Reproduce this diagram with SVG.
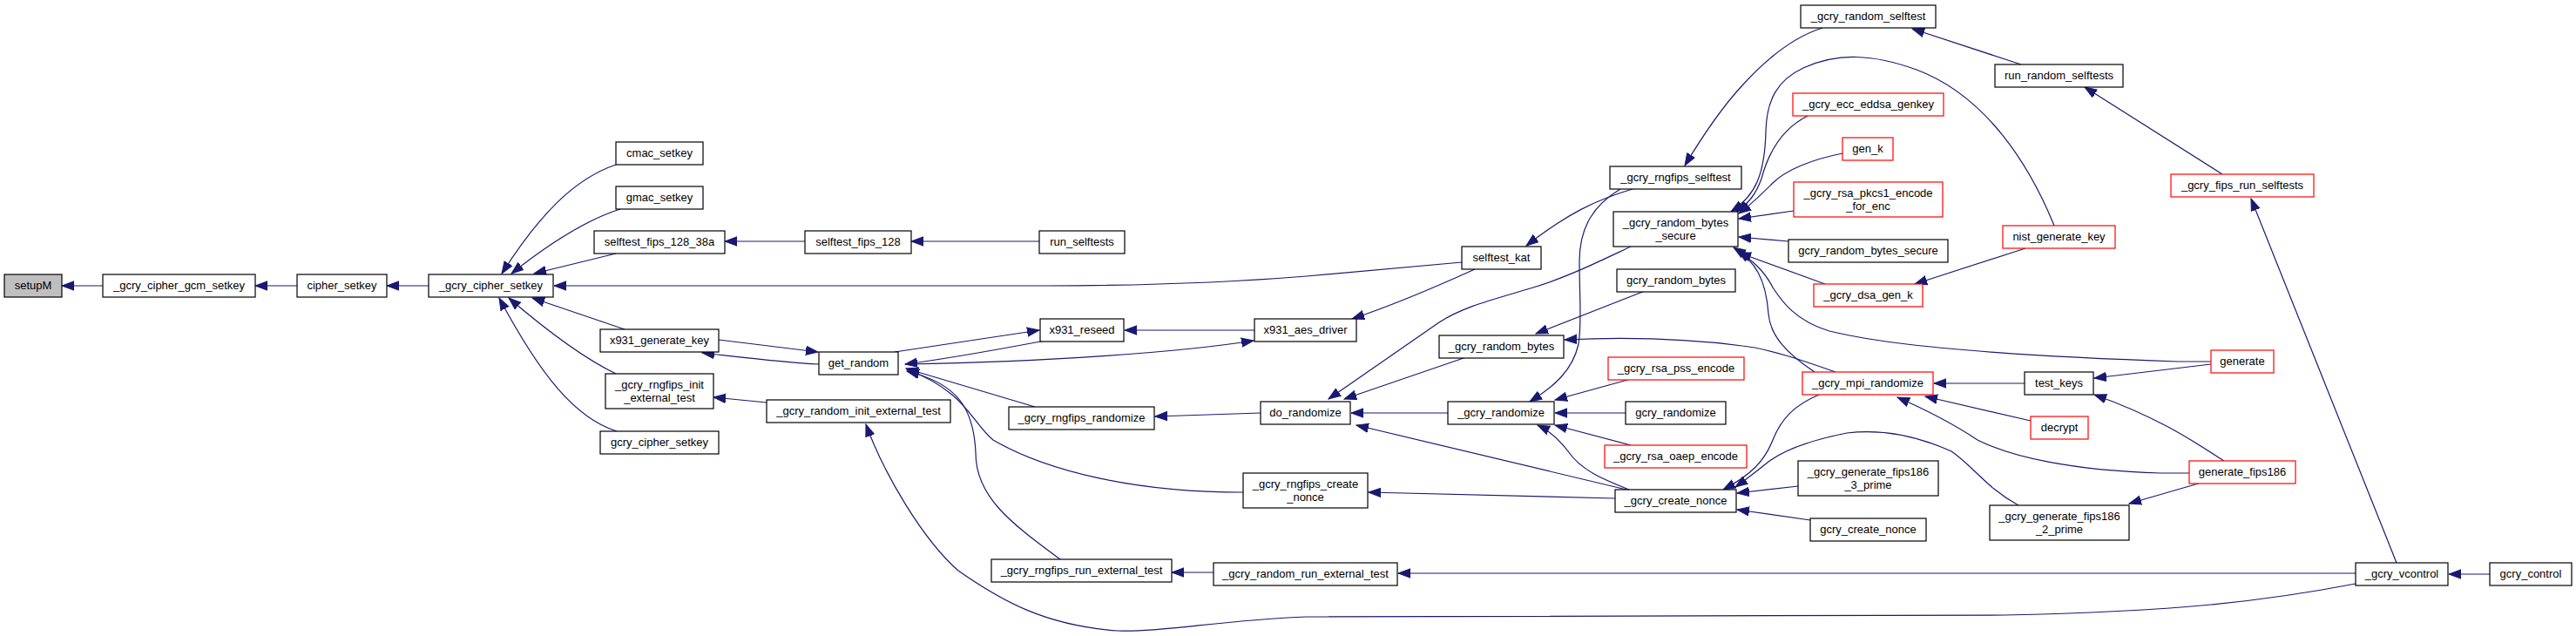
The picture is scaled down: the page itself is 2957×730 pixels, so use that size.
<svg xmlns="http://www.w3.org/2000/svg" width="2957" height="730" viewBox="0 0 2957 730">
<style>
.n rect{fill:#fff;stroke:#000;stroke-width:1.2}
.n.r rect{stroke:#ff0000}
.n.s rect{fill:#bfbfbf}
.n text{font-family:"Liberation Sans",Arial,sans-serif;font-size:13px;text-anchor:middle;fill:#000}
#edges path{fill:none;stroke:#191970;stroke-width:1.2;marker-end:url(#ah)}
</style>
<defs>
<marker id="ah" markerUnits="userSpaceOnUse" markerWidth="15" markerHeight="12" viewBox="0 0 15 12" refX="14" refY="6" orient="auto"><path d="M0,0.8 L14,6 L0,11.2 z" fill="#191970" stroke="#191970" stroke-width="1"/></marker>
</defs>
<rect width="2957" height="730" fill="#fff"/>
<g id="edges">
<path d="M118,328 L71,328"/>
<path d="M341,328 L293,328"/>
<path d="M492,328 L444,328"/>
<path d="M707,189 C660,205 620,245 576,314"/>
<path d="M712,240 C680,250 640,272 587,314"/>
<path d="M707,291 L613,314"/>
<path d="M1678,301 L1500,317 C1400,325 1300,328 1200,328 L636,328"/>
<path d="M717,378 L611,342"/>
<path d="M707,429 C680,416 640,390 584,342"/>
<path d="M708,495 C660,480 620,430 573,342"/>
<path d="M924,277 L832,277"/>
<path d="M1193,277 L1046,277"/>
<path d="M825,390 L939,404"/>
<path d="M940,418 C900,416 860,411 806,405"/>
<path d="M880,462 L819,456"/>
<path d="M2704,670 C2600,690 2500,702 2300,706 L1500,708 C1400,712 1330,726 1283,724 C1200,718 1150,690 1100,655 C1060,620 1015,545 994,487"/>
<path d="M1027,404 L1193,379"/>
<path d="M1200,391 C1150,400 1100,410 1039,418"/>
<path d="M1040,418 C1200,415 1350,405 1439,391"/>
<path d="M1440,379 L1291,379"/>
<path d="M1188,467 L1040,423"/>
<path d="M1427,565 C1300,565 1200,540 1140,505 C1115,485 1110,450 1041,424"/>
<path d="M1217,642 C1160,600 1120,570 1120,520 C1118,470 1100,440 1041,426"/>
<path d="M1447,474 L1326,478"/>
<path d="M1854,572 L1571,565"/>
<path d="M1393,657 L1345,657"/>
<path d="M2704,658 L1605,658"/>
<path d="M1877,216 C1830,230 1800,245 1752,282"/>
<path d="M1693,309 C1640,333 1600,350 1552,366"/>
<path d="M2092,32 C2060,42 2030,65 2000,98 C1975,125 1955,155 1934,190"/>
<path d="M2320,74 L2195,33"/>
<path d="M2551,200 L2393,100"/>
<path d="M2751,646 L2584,228"/>
<path d="M2858,659 L2811,659"/>
<path d="M1860,217 C1830,235 1813,260 1813,300 C1813,340 1816,370 1812,395 C1805,425 1785,443 1756,461"/>
<path d="M1888,334 L1763,383"/>
<path d="M1683,410 L1543,458"/>
<path d="M1872,283 C1840,298 1800,318 1760,330 C1710,345 1680,352 1652,370 L1525,458"/>
<path d="M1662,474 L1551,474"/>
<path d="M1867,562 L1557,488"/>
<path d="M1870,562 C1840,550 1815,540 1800,518 C1790,505 1780,495 1765,488"/>
<path d="M1872,511 L1785,488"/>
<path d="M1872,435 L1785,459"/>
<path d="M1866,474 L1785,474"/>
<path d="M2358,259 C2330,190 2280,110 2200,80 C2150,62 2110,60 2070,78 C2040,92 2028,115 2027,150 C2026,200 2015,225 1987,243"/>
<path d="M2075,133 C2045,148 2030,175 2022,205 C2015,225 2005,235 1993,243"/>
<path d="M2115,176 C2080,183 2050,195 2035,210 C2020,225 2010,235 1996,245"/>
<path d="M2059,242 L1996,251"/>
<path d="M2053,277 L1996,272"/>
<path d="M2095,326 L1996,290"/>
<path d="M2083,427 C2050,405 2032,385 2030,360 C2027,320 2015,300 1990,284"/>
<path d="M2538,415 L2500,415 C2350,410 2180,400 2100,380 C2060,368 2045,345 2035,330 C2025,310 2010,298 1995,288"/>
<path d="M2538,418 L2404,434"/>
<path d="M2107,427 C2070,414 2030,400 2000,397 C1930,388 1860,387 1796,390"/>
<path d="M2088,453 C2060,465 2045,480 2035,505 C2025,530 2010,545 1978,562"/>
<path d="M2317,580 C2280,560 2265,535 2240,518 C2200,500 2160,492 2120,497 C2080,505 2050,515 2030,530 C2015,542 2005,550 1992,559"/>
<path d="M2064,558 L1994,566"/>
<path d="M2078,597 L1994,585"/>
<path d="M2324,440 L2220,440"/>
<path d="M2331,483 L2210,455"/>
<path d="M2513,543 L2480,543 C2380,540 2310,525 2270,505 C2240,485 2210,470 2178,456"/>
<path d="M2527,554 L2444,578"/>
<path d="M2553,529 C2520,508 2480,480 2404,453"/>
<path d="M2325,285 L2198,326"/>
</g>
<g id="n_setupM" class="n s"><rect x="5" y="315" width="66" height="26"/><text x="38" y="332">setupM</text></g>
<g id="n_gcm_setkey" class="n"><rect x="118" y="315" width="175" height="26"/><text x="205.5" y="332">_gcry_cipher_gcm_setkey</text></g>
<g id="n_cipher_setkey" class="n"><rect x="341" y="315" width="103" height="26"/><text x="392.5" y="332">cipher_setkey</text></g>
<g id="n__gcry_cipher_setkey" class="n"><rect x="492" y="315" width="143" height="26"/><text x="563.5" y="332">_gcry_cipher_setkey</text></g>
<g id="n_cmac_setkey" class="n"><rect x="707" y="163" width="100" height="26"/><text x="757" y="180">cmac_setkey</text></g>
<g id="n_gmac_setkey" class="n"><rect x="707" y="214" width="100" height="26"/><text x="757" y="231">gmac_setkey</text></g>
<g id="n_selftest_fips_128_38a" class="n"><rect x="682" y="265" width="150" height="26"/><text x="757" y="282">selftest_fips_128_38a</text></g>
<g id="n_selftest_fips_128" class="n"><rect x="924" y="265" width="122" height="26"/><text x="985" y="282">selftest_fips_128</text></g>
<g id="n_run_selftests" class="n"><rect x="1193" y="265" width="98" height="26"/><text x="1242" y="282">run_selftests</text></g>
<g id="n_x931_generate_key" class="n"><rect x="689" y="378" width="136" height="26"/><text x="757" y="395">x931_generate_key</text></g>
<g id="n_rngfips_init_external_test" class="n"><rect x="695" y="429" width="124" height="40"/><text x="757" y="446">_gcry_rngfips_init</text><text x="757" y="461">_external_test</text></g>
<g id="n_gcry_cipher_setkey" class="n"><rect x="689" y="495" width="136" height="26"/><text x="757" y="512">gcry_cipher_setkey</text></g>
<g id="n_get_random" class="n"><rect x="940" y="404" width="91" height="26"/><text x="985.5" y="421">get_random</text></g>
<g id="n_random_init_external_test" class="n"><rect x="880" y="459" width="211" height="26"/><text x="985.5" y="476">_gcry_random_init_external_test</text></g>
<g id="n_x931_reseed" class="n"><rect x="1194" y="366" width="96" height="26"/><text x="1242" y="383">x931_reseed</text></g>
<g id="n_x931_aes_driver" class="n"><rect x="1440" y="366" width="117" height="26"/><text x="1498.5" y="383">x931_aes_driver</text></g>
<g id="n_rngfips_randomize" class="n"><rect x="1158" y="467" width="167" height="26"/><text x="1241.5" y="484">_gcry_rngfips_randomize</text></g>
<g id="n_do_randomize" class="n"><rect x="1447" y="461" width="103" height="26"/><text x="1498.5" y="478">do_randomize</text></g>
<g id="n_rngfips_create_nonce" class="n"><rect x="1427" y="543" width="143" height="40"/><text x="1498.5" y="560">_gcry_rngfips_create</text><text x="1498.5" y="575">_nonce</text></g>
<g id="n_rngfips_run_external_test" class="n"><rect x="1138" y="642" width="207" height="26"/><text x="1241.5" y="659">_gcry_rngfips_run_external_test</text></g>
<g id="n_random_run_external_test" class="n"><rect x="1393" y="646" width="211" height="26"/><text x="1498.5" y="663">_gcry_random_run_external_test</text></g>
<g id="n_selftest_kat" class="n"><rect x="1678" y="283" width="91" height="26"/><text x="1723.5" y="300">selftest_kat</text></g>
<g id="n_rngfips_selftest" class="n"><rect x="1848" y="191" width="151" height="26"/><text x="1923.5" y="208">_gcry_rngfips_selftest</text></g>
<g id="n__random_bytes_secure" class="n"><rect x="1852" y="243" width="143" height="40"/><text x="1923.5" y="260">_gcry_random_bytes</text><text x="1923.5" y="275">_secure</text></g>
<g id="n_gcry_random_bytes" class="n"><rect x="1856" y="309" width="136" height="26"/><text x="1924" y="326">gcry_random_bytes</text></g>
<g id="n__random_bytes" class="n"><rect x="1652" y="385" width="143" height="26"/><text x="1723.5" y="402">_gcry_random_bytes</text></g>
<g id="n__randomize" class="n"><rect x="1662" y="461" width="122" height="26"/><text x="1723" y="478">_gcry_randomize</text></g>
<g id="n_rsa_pss_encode" class="n r"><rect x="1846" y="410" width="156" height="26"/><text x="1924" y="427">_gcry_rsa_pss_encode</text></g>
<g id="n_gcry_randomize" class="n"><rect x="1866" y="461" width="115" height="26"/><text x="1923.5" y="478">gcry_randomize</text></g>
<g id="n_rsa_oaep_encode" class="n r"><rect x="1842" y="511" width="163" height="26"/><text x="1923.5" y="528">_gcry_rsa_oaep_encode</text></g>
<g id="n__create_nonce" class="n"><rect x="1854" y="562" width="139" height="26"/><text x="1923.5" y="579">_gcry_create_nonce</text></g>
<g id="n_random_selftest" class="n"><rect x="2067" y="6" width="155" height="26"/><text x="2144.5" y="23">_gcry_random_selftest</text></g>
<g id="n_run_random_selftests" class="n"><rect x="2290" y="74" width="147" height="26"/><text x="2363.5" y="91">run_random_selftests</text></g>
<g id="n_ecc_eddsa_genkey" class="n r"><rect x="2058" y="107" width="173" height="26"/><text x="2144.5" y="124">_gcry_ecc_eddsa_genkey</text></g>
<g id="n_gen_k" class="n r"><rect x="2115" y="158" width="58" height="26"/><text x="2144" y="175">gen_k</text></g>
<g id="n_rsa_pkcs1_encode_for_enc" class="n r"><rect x="2059" y="209" width="171" height="40"/><text x="2144.5" y="226">_gcry_rsa_pkcs1_encode</text><text x="2144.5" y="241">_for_enc</text></g>
<g id="n_gcry_random_bytes_secure" class="n"><rect x="2053" y="275" width="183" height="26"/><text x="2144.5" y="292">gcry_random_bytes_secure</text></g>
<g id="n_dsa_gen_k" class="n r"><rect x="2082" y="326" width="125" height="26"/><text x="2144.5" y="343">_gcry_dsa_gen_k</text></g>
<g id="n_nist_generate_key" class="n r"><rect x="2299" y="259" width="129" height="26"/><text x="2363.5" y="276">nist_generate_key</text></g>
<g id="n_fips_run_selftests" class="n r"><rect x="2492" y="200" width="164" height="26"/><text x="2574" y="217">_gcry_fips_run_selftests</text></g>
<g id="n_mpi_randomize" class="n r"><rect x="2069" y="427" width="150" height="26"/><text x="2144" y="444">_gcry_mpi_randomize</text></g>
<g id="n_test_keys" class="n"><rect x="2324" y="427" width="79" height="26"/><text x="2363.5" y="444">test_keys</text></g>
<g id="n_decrypt" class="n r"><rect x="2331" y="478" width="66" height="26"/><text x="2364" y="495">decrypt</text></g>
<g id="n_fips186_3_prime" class="n"><rect x="2064" y="529" width="161" height="40"/><text x="2144.5" y="546">_gcry_generate_fips186</text><text x="2144.5" y="561">_3_prime</text></g>
<g id="n_gcry_create_nonce" class="n"><rect x="2078" y="595" width="133" height="26"/><text x="2144.5" y="612">gcry_create_nonce</text></g>
<g id="n_fips186_2_prime" class="n"><rect x="2284" y="580" width="160" height="40"/><text x="2364" y="597">_gcry_generate_fips186</text><text x="2364" y="612">_2_prime</text></g>
<g id="n_generate" class="n r"><rect x="2538" y="402" width="72" height="26"/><text x="2574" y="419">generate</text></g>
<g id="n_generate_fips186" class="n r"><rect x="2513" y="529" width="122" height="26"/><text x="2574" y="546">generate_fips186</text></g>
<g id="n_vcontrol" class="n"><rect x="2704" y="646" width="106" height="26"/><text x="2757" y="663">_gcry_vcontrol</text></g>
<g id="n_gcry_control" class="n"><rect x="2858" y="646" width="94" height="26"/><text x="2905" y="663">gcry_control</text></g>
</svg>
